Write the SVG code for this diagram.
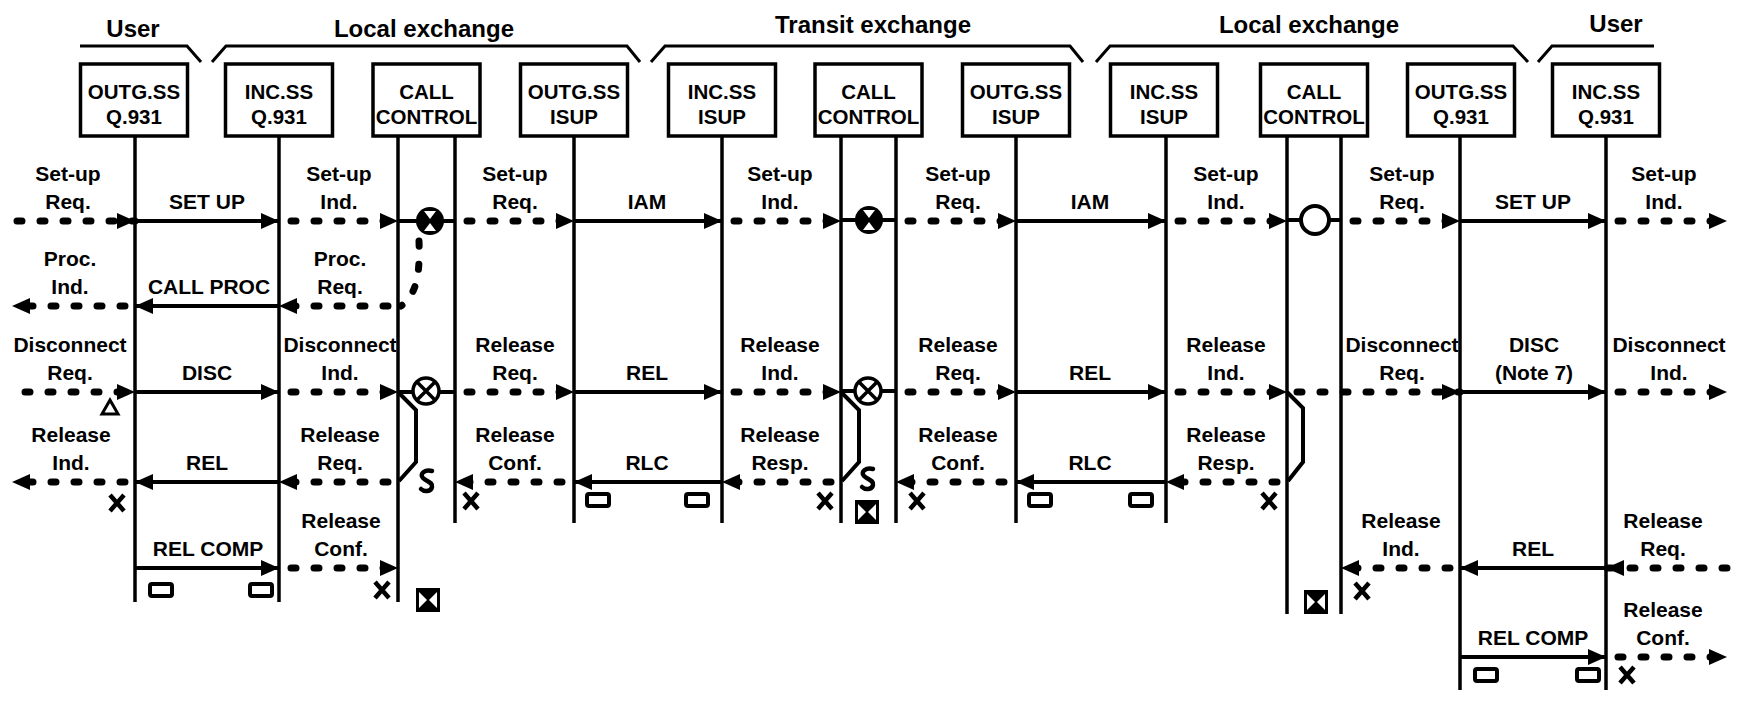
<svg xmlns="http://www.w3.org/2000/svg" xmlns:xlink="http://www.w3.org/1999/xlink" width="1741" height="703" viewBox="0 0 1741 703">
<style>
.t{font-family:"Liberation Sans",Arial,sans-serif;font-weight:bold;font-size:21px;text-anchor:middle;fill:#000}
.h{font-size:24px}
.bx{font-size:20.5px}
.box{fill:#fff;stroke:#000;stroke-width:3.5}
.life{stroke:#000;stroke-width:3.5}
.br{fill:none;stroke:#000;stroke-width:3}
.sol{stroke:#000;stroke-width:4;fill:none;marker-end:url(#ah)}
.dot{stroke:#000;stroke-width:7;stroke-dasharray:5 18;stroke-linecap:round;fill:none;marker-end:url(#ah)}
.dotc{stroke:#000;stroke-width:7;stroke-dasharray:5 18;stroke-linecap:round;fill:none}
.ln{stroke:#000;stroke-width:4;fill:none}
</style>
<defs>
<marker id="ah" markerUnits="userSpaceOnUse" markerWidth="20" markerHeight="16" refX="18" refY="8" orient="auto"><path d="M0,0 L18,8 L0,16 z" fill="#000"/></marker>
<g id="hg"><circle r="14" fill="#000"/><path d="M-6,-10 H6 L0,-2 z M-6,10 H6 L0,2 z" fill="#fff"/></g>
<g id="xc"><circle r="13" fill="#fff" stroke="#000" stroke-width="3.5"/><path d="M-9,-9 L9,9 M9,-9 L-9,9" stroke="#000" stroke-width="3.5"/></g>
<g id="xb"><rect x="-12" y="-12" width="24" height="24" fill="#000"/><path d="M-9,-8 L-1,0 L-9,8 z M9,-8 L1,0 L9,8 z" fill="#fff"/></g>
<g id="tm"><rect x="-11" y="-6" width="22" height="12" rx="2" fill="#fff" stroke="#000" stroke-width="4"/></g>
<g id="xm"><path d="M-7,-8 L7,8 M7,-8 L-7,8" stroke="#000" stroke-width="4.5"/></g>
<g id="td"><path d="M5,-10 C-2,-12 -8,-7 -4,-3 C0,1 6,1 5,6 C4,11 -3,11 -6,8" fill="none" stroke="#000" stroke-width="4.5" stroke-linecap="round"/></g>
</defs>
<rect width="1741" height="703" fill="#fff"/>

<g id="headers">
<text class="t h" x="133" y="37">User</text>
<text class="t h" x="424" y="37">Local exchange</text>
<text class="t h" x="873" y="33">Transit exchange</text>
<text class="t h" x="1309" y="33">Local exchange</text>
<text class="t h" x="1616" y="32">User</text>
<path class="br" d="M80,46 H187 L201,62"/>
<path class="br" d="M212,62 L226,46 H627 L640,62"/>
<path class="br" d="M651,62 L665,46 H1070 L1083,62"/>
<path class="br" d="M1096,62 L1110,46 H1513 L1528,62"/>
<path class="br" d="M1538,62 L1552,46 H1654"/>
</g>

<g id="n1"><rect class="box" x="80.5" y="64" width="107" height="72"/><text class="t bx" x="134" y="99">OUTG.SS</text><text class="t bx" x="134" y="124">Q.931</text><line class="life" x1="135" y1="136" x2="135" y2="602"/></g>
<g id="n2"><rect class="box" x="225.5" y="64" width="107" height="72"/><text class="t bx" x="279" y="99">INC.SS</text><text class="t bx" x="279" y="124">Q.931</text><line class="life" x1="279" y1="136" x2="279" y2="602"/></g>
<g id="n3"><rect class="box" x="373" y="64" width="107" height="72"/><text class="t bx" x="426.5" y="99">CALL</text><text class="t bx" x="426.5" y="124">CONTROL</text><line class="life" x1="398" y1="136" x2="398" y2="602"/><line class="life" x1="455" y1="136" x2="455" y2="523"/></g>
<g id="n4"><rect class="box" x="520.5" y="64" width="107" height="72"/><text class="t bx" x="574" y="99">OUTG.SS</text><text class="t bx" x="574" y="124">ISUP</text><line class="life" x1="574" y1="136" x2="574" y2="523"/></g>
<g id="n5"><rect class="box" x="668.5" y="64" width="107" height="72"/><text class="t bx" x="722" y="99">INC.SS</text><text class="t bx" x="722" y="124">ISUP</text><line class="life" x1="722" y1="136" x2="722" y2="523"/></g>
<g id="n6"><rect class="box" x="815" y="64" width="107" height="72"/><text class="t bx" x="868.5" y="99">CALL</text><text class="t bx" x="868.5" y="124">CONTROL</text><line class="life" x1="841" y1="136" x2="841" y2="523"/><line class="life" x1="896" y1="136" x2="896" y2="523"/></g>
<g id="n7"><rect class="box" x="962.5" y="64" width="107" height="72"/><text class="t bx" x="1016" y="99">OUTG.SS</text><text class="t bx" x="1016" y="124">ISUP</text><line class="life" x1="1016" y1="136" x2="1016" y2="523"/></g>
<g id="n8"><rect class="box" x="1110.5" y="64" width="107" height="72"/><text class="t bx" x="1164" y="99">INC.SS</text><text class="t bx" x="1164" y="124">ISUP</text><line class="life" x1="1166" y1="136" x2="1166" y2="523"/></g>
<g id="n9"><rect class="box" x="1260.5" y="64" width="107" height="72"/><text class="t bx" x="1314" y="99">CALL</text><text class="t bx" x="1314" y="124">CONTROL</text><line class="life" x1="1287" y1="136" x2="1287" y2="614"/><line class="life" x1="1341" y1="136" x2="1341" y2="614"/></g>
<g id="n10"><rect class="box" x="1407.5" y="64" width="107" height="72"/><text class="t bx" x="1461" y="99">OUTG.SS</text><text class="t bx" x="1461" y="124">Q.931</text><line class="life" x1="1460" y1="136" x2="1460" y2="690"/></g>
<g id="n11"><rect class="box" x="1552.5" y="64" width="107" height="72"/><text class="t bx" x="1606" y="99">INC.SS</text><text class="t bx" x="1606" y="124">Q.931</text><line class="life" x1="1606" y1="136" x2="1606" y2="690"/></g>

<g id="connectors">
<!-- row 1 -->
<path class="dot" d="M17,221 H135"/>
<path class="sol" d="M135,221 H279"/>
<path class="dot" d="M291,221 H398"/>
<path class="ln" d="M398,221 H417 M443,221 H455"/>
<path class="dot" d="M467,221 H574"/>
<path class="sol" d="M574,221 H722"/>
<path class="dot" d="M734,221 H841"/>
<path class="ln" d="M841,220 H856 M882,220 H896"/>
<path class="dot" d="M908,221 H1016"/>
<path class="sol" d="M1016,221 H1166"/>
<path class="dot" d="M1178,221 H1287"/>
<path class="ln" d="M1287,220 H1300 M1330,220 H1341"/>
<path class="dot" d="M1353,221 H1460"/>
<path class="sol" d="M1460,221 H1606"/>
<path class="dot" d="M1618,221 H1727"/>
<!-- row 2 -->
<path class="dotc" d="M419,241 C420,270 418,294 401,306"/>
<path class="dot" d="M125,306 H12"/>
<path class="sol" d="M279,306 H135"/>
<path class="dot" d="M388,306 H279"/>
<!-- row 3 -->
<path class="dot" d="M25,392 H135"/>
<path class="sol" d="M135,392 H279"/>
<path class="dot" d="M291,392 H398"/>
<path class="ln" d="M398,392 H413 M439,392 H455"/>
<path class="dot" d="M467,392 H574"/>
<path class="sol" d="M574,392 H722"/>
<path class="dot" d="M734,392 H841"/>
<path class="ln" d="M841,391 H855 M881,391 H896"/>
<path class="dot" d="M908,392 H1016"/>
<path class="sol" d="M1016,392 H1166"/>
<path class="dot" d="M1178,392 H1287"/>
<path class="dot" d="M1297,392 H1460"/>
<path class="sol" d="M1460,392 H1606"/>
<path class="dot" d="M1618,392 H1727"/>
<path class="ln" d="M398,392 L416,410 V462 L399,481"/>
<path class="ln" d="M841,392 L859,410 V462 L842,481"/>
<path class="ln" d="M1287,392 L1303,408 V462 L1288,481"/>
<!-- row 4 -->
<path class="dot" d="M125,482 H12"/>
<path class="sol" d="M279,482 H135"/>
<path class="dot" d="M388,482 H279"/>
<path class="dot" d="M562,482 H455"/>
<path class="sol" d="M722,482 H574"/>
<path class="dot" d="M831,482 H722"/>
<path class="dot" d="M1004,482 H896"/>
<path class="sol" d="M1166,482 H1016"/>
<path class="dot" d="M1277,482 H1166"/>
<!-- row 5 -->
<path class="sol" d="M135,568 H279"/>
<path class="dot" d="M291,568 H398"/>
<path class="dot" d="M1450,568 H1341"/>
<path class="sol" d="M1606,568 H1460"/>
<path class="dot" d="M1727,568 H1606"/>
<!-- row 6 -->
<path class="sol" d="M1460,657 H1606"/>
<path class="dot" d="M1618,657 H1727"/>
</g>

<g id="symbols">
<use href="#hg" x="430" y="221"/>
<use href="#hg" x="869" y="220"/>
<circle cx="1315" cy="220" r="14" fill="#fff" stroke="#000" stroke-width="4"/>
<use href="#xc" x="426" y="391"/>
<use href="#xc" x="868" y="391"/>
<path d="M110,400 L118,414 L102,414 z" fill="#fff" stroke="#000" stroke-width="3"/>
<use href="#td" x="427" y="481"/>
<use href="#td" x="868" y="479"/>
<use href="#xb" x="867" y="512"/>
<use href="#xb" x="428" y="600"/>
<use href="#xb" x="1316" y="602"/>
<use href="#xm" x="117" y="503"/>
<use href="#xm" x="471" y="501"/>
<use href="#xm" x="825" y="501"/>
<use href="#xm" x="917" y="501"/>
<use href="#xm" x="1269" y="501"/>
<use href="#xm" x="382" y="590"/>
<use href="#xm" x="1362" y="591"/>
<use href="#xm" x="1627" y="675"/>
<use href="#tm" x="598" y="500"/>
<use href="#tm" x="697" y="500"/>
<use href="#tm" x="1040" y="500"/>
<use href="#tm" x="1141" y="500"/>
<use href="#tm" x="161" y="590"/>
<use href="#tm" x="261" y="590"/>
<use href="#tm" x="1486" y="675"/>
<use href="#tm" x="1588" y="675"/>
</g>

<g id="labels">
<!-- row 1 -->
<text class="t" x="68" y="181">Set-up<tspan x="68" y="209">Req.</tspan></text>
<text class="t" x="207" y="209">SET UP</text>
<text class="t" x="339" y="181">Set-up<tspan x="339" y="209">Ind.</tspan></text>
<text class="t" x="515" y="181">Set-up<tspan x="515" y="209">Req.</tspan></text>
<text class="t" x="647" y="209">IAM</text>
<text class="t" x="780" y="181">Set-up<tspan x="780" y="209">Ind.</tspan></text>
<text class="t" x="958" y="181">Set-up<tspan x="958" y="209">Req.</tspan></text>
<text class="t" x="1090" y="209">IAM</text>
<text class="t" x="1226" y="181">Set-up<tspan x="1226" y="209">Ind.</tspan></text>
<text class="t" x="1402" y="181">Set-up<tspan x="1402" y="209">Req.</tspan></text>
<text class="t" x="1533" y="209">SET UP</text>
<text class="t" x="1664" y="181">Set-up<tspan x="1664" y="209">Ind.</tspan></text>
<!-- row 2 -->
<text class="t" x="70" y="266">Proc.<tspan x="70" y="294">Ind.</tspan></text>
<text class="t" x="209" y="294">CALL PROC</text>
<text class="t" x="340" y="266">Proc.<tspan x="340" y="294">Req.</tspan></text>
<!-- row 3 -->
<text class="t" x="70" y="352">Disconnect<tspan x="70" y="380">Req.</tspan></text>
<text class="t" x="207" y="380">DISC</text>
<text class="t" x="340" y="352">Disconnect<tspan x="340" y="380">Ind.</tspan></text>
<text class="t" x="515" y="352">Release<tspan x="515" y="380">Req.</tspan></text>
<text class="t" x="647" y="380">REL</text>
<text class="t" x="780" y="352">Release<tspan x="780" y="380">Ind.</tspan></text>
<text class="t" x="958" y="352">Release<tspan x="958" y="380">Req.</tspan></text>
<text class="t" x="1090" y="380">REL</text>
<text class="t" x="1226" y="352">Release<tspan x="1226" y="380">Ind.</tspan></text>
<text class="t" x="1402" y="352">Disconnect<tspan x="1402" y="380">Req.</tspan></text>
<text class="t" x="1534" y="352">DISC<tspan x="1534" y="380">(Note 7)</tspan></text>
<text class="t" x="1669" y="352">Disconnect<tspan x="1669" y="380">Ind.</tspan></text>
<!-- row 4 -->
<text class="t" x="71" y="442">Release<tspan x="71" y="470">Ind.</tspan></text>
<text class="t" x="207" y="470">REL</text>
<text class="t" x="340" y="442">Release<tspan x="340" y="470">Req.</tspan></text>
<text class="t" x="515" y="442">Release<tspan x="515" y="470">Conf.</tspan></text>
<text class="t" x="647" y="470">RLC</text>
<text class="t" x="780" y="442">Release<tspan x="780" y="470">Resp.</tspan></text>
<text class="t" x="958" y="442">Release<tspan x="958" y="470">Conf.</tspan></text>
<text class="t" x="1090" y="470">RLC</text>
<text class="t" x="1226" y="442">Release<tspan x="1226" y="470">Resp.</tspan></text>
<!-- row 5 -->
<text class="t" x="208" y="556">REL COMP</text>
<text class="t" x="341" y="528">Release<tspan x="341" y="556">Conf.</tspan></text>
<text class="t" x="1401" y="528">Release<tspan x="1401" y="556">Ind.</tspan></text>
<text class="t" x="1533" y="556">REL</text>
<text class="t" x="1663" y="528">Release<tspan x="1663" y="556">Req.</tspan></text>
<!-- row 6 -->
<text class="t" x="1533" y="645">REL COMP</text>
<text class="t" x="1663" y="617">Release<tspan x="1663" y="645">Conf.</tspan></text>
</g>
</svg>
